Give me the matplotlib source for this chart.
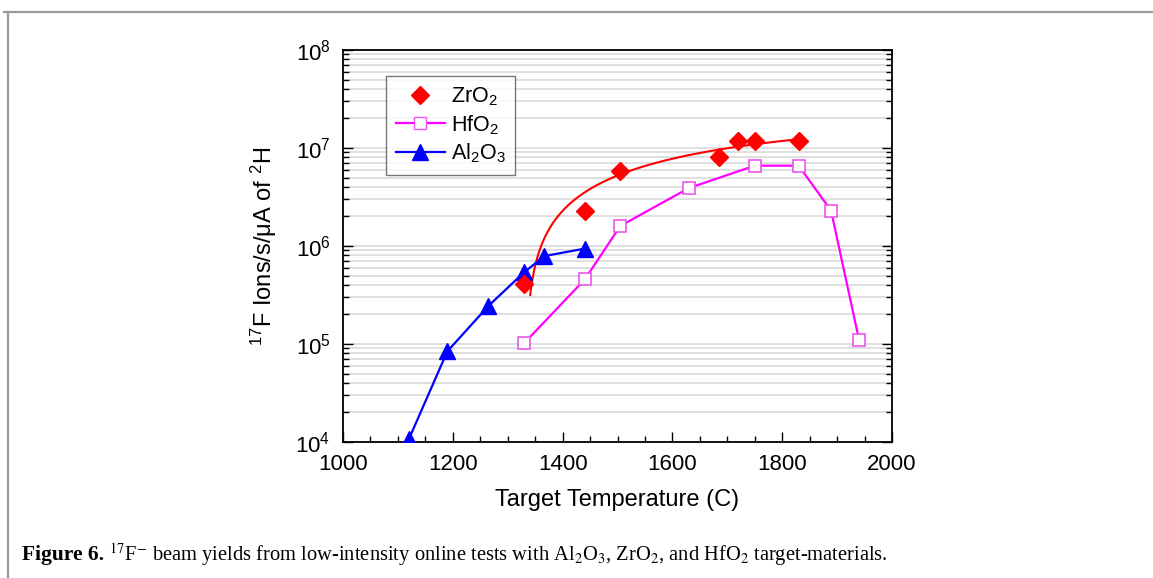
import numpy as np
import matplotlib
matplotlib.use("Agg")
import matplotlib.pyplot as plt
from matplotlib.lines import Line2D
from matplotlib.ticker import LogLocator, MultipleLocator, NullFormatter

plt.rcParams['font.family'] = ['Liberation Sans', 'DejaVu Sans']
plt.rcParams['mathtext.fontset'] = 'custom'
plt.rcParams['mathtext.rm'] = 'Liberation Sans'
plt.rcParams['mathtext.it'] = 'Liberation Sans:italic'
plt.rcParams['mathtext.bf'] = 'Liberation Sans:bold'

# ---- data ----
al_T = [1120, 1190, 1265, 1330, 1367, 1440]
al_y = [1.07e4, 8.4e4, 2.45e5, 5.4e5, 7.9e5, 9.4e5]

zr_T = [1330, 1441, 1505, 1685, 1720, 1750, 1830]
zr_y = [4.1e5, 2.25e6, 5.8e6, 8.0e6, 1.18e7, 1.18e7, 1.18e7]

hf_T = [1330, 1441, 1505, 1630, 1750, 1830, 1889, 1940]
hf_y = [1.02e5, 4.6e5, 1.6e6, 3.9e6, 6.6e6, 6.6e6, 2.3e6, 1.1e5]

# saturation fit drawn through the ZrO2 points: y = A*(1-exp(-(T-T0)/tau))
fit_A = 2.3e7
fit_T0 = 1332.0
fit_tau = 650.0
fit_range = [1341, 1830]

x_ticks = [1000, 1200, 1400, 1600, 1800, 2000]
legend_labels = ['ZrO$_2$', 'HfO$_2$', 'Al$_2$O$_3$']

W, H = 1153, 578
fig = plt.figure(figsize=(W / 100, H / 100), dpi=100)
ax = fig.add_axes([343 / W, 1 - 442 / H, (892 - 343) / W, (442 - 50) / H])

ax.set_yscale('log')
ax.set_xlim(1000, 2000)
ax.set_ylim(1e4, 1e8)

ax.yaxis.set_major_locator(LogLocator(base=10, numticks=10))
ax.yaxis.set_minor_locator(LogLocator(base=10, subs=np.arange(2, 10), numticks=20))
ax.yaxis.set_minor_formatter(NullFormatter())
ax.grid(True, axis='y', which='both', color='#dcdcdc', linewidth=1.3)
ax.set_axisbelow(True)

ax.set_xticks(x_ticks)
ax.xaxis.set_minor_locator(MultipleLocator(50))
ax.tick_params(axis='both', which='major', direction='in', length=7, width=1,
               labelsize=16, right=True, top=False)
ax.tick_params(axis='both', which='minor', direction='in', length=4, width=1,
               right=True, top=False)
ax.tick_params(axis='x', which='major', pad=9)
ax.tick_params(axis='y', which='major', pad=9)
for s in ax.spines.values():
    s.set_linewidth(1.3)

# fit curve
Tf = np.linspace(fit_range[0], fit_range[1], 300)
yf = fit_A * (1 - np.exp(-(Tf - fit_T0) / fit_tau))
ax.plot(Tf, yf, color='#ff0000', linewidth=1.5, zorder=3)

ax.plot(hf_T, hf_y, color='#ff00ff', linewidth=1.6, marker='s', markersize=9,
        markerfacecolor='white', markeredgecolor='#ee55ee', markeredgewidth=1.2, zorder=4)
ax.plot(al_T, al_y, color='#0000ff', linewidth=1.6, marker='^', markersize=11,
        markerfacecolor='#0000ff', markeredgecolor='#0000ff', zorder=5)
ax.plot(zr_T, zr_y, linestyle='none', marker='D', markersize=9.5,
        markerfacecolor='#ff0000', markeredgecolor='#ff0000', zorder=6)

ax.set_xlabel('Target Temperature (C)', fontsize=17, labelpad=10)
ax.set_ylabel('$^{17}$F Ions/s/\u03bcA of $^{2}$H', fontsize=17, labelpad=12)

handles = [
    Line2D([], [], linestyle='none', marker='D', markersize=9,
           markerfacecolor='#ff0000', markeredgecolor='#ff0000'),
    Line2D([], [], color='#ff00ff', linewidth=1.6, marker='s', markersize=9,
           markerfacecolor='white', markeredgecolor='#ee55ee'),
    Line2D([], [], color='#0000ff', linewidth=1.6, marker='^', markersize=11,
           markerfacecolor='#0000ff', markeredgecolor='#0000ff'),
]
leg = ax.legend(handles, legend_labels, loc='upper left',
                bbox_to_anchor=((386 - 343) / (892 - 343), 1 - (76 - 50) / (442 - 50)),
                fontsize=15.5, frameon=True, fancybox=False, edgecolor='#555555',
                handlelength=2.3, handletextpad=0.25, labelspacing=0.22,
                borderpad=0.45, borderaxespad=0)
leg.get_frame().set_linewidth(1.0)

# figure frame (gray, top & left)
fig.add_artist(Line2D([4 / W, 1.0], [1 - 12 / H, 1 - 12 / H], color='#999999', linewidth=1.6))
fig.add_artist(Line2D([8 / W, 8 / W], [0, 1 - 12 / H], color='#999999', linewidth=1.6))

# caption
cap_y = 1 - 555 / H
t1 = fig.text(22 / W, cap_y, 'Figure 6.', fontsize=15.5, fontweight='bold',
              family='Liberation Serif', va='center')
fig.canvas.draw()
bb = t1.get_window_extent(renderer=fig.canvas.get_renderer())
fig.text((bb.x1 + 5) / W, cap_y,
         r'$^{17}$F$^{-}$ beam yields from low-intensity online tests with '
         r'Al$_2$O$_3$, ZrO$_2$, and HfO$_2$ target-materials.',
         fontsize=14.8, family='Liberation Serif', math_fontfamily='stix', va='center')

fig.savefig('out.png', dpi=100)
